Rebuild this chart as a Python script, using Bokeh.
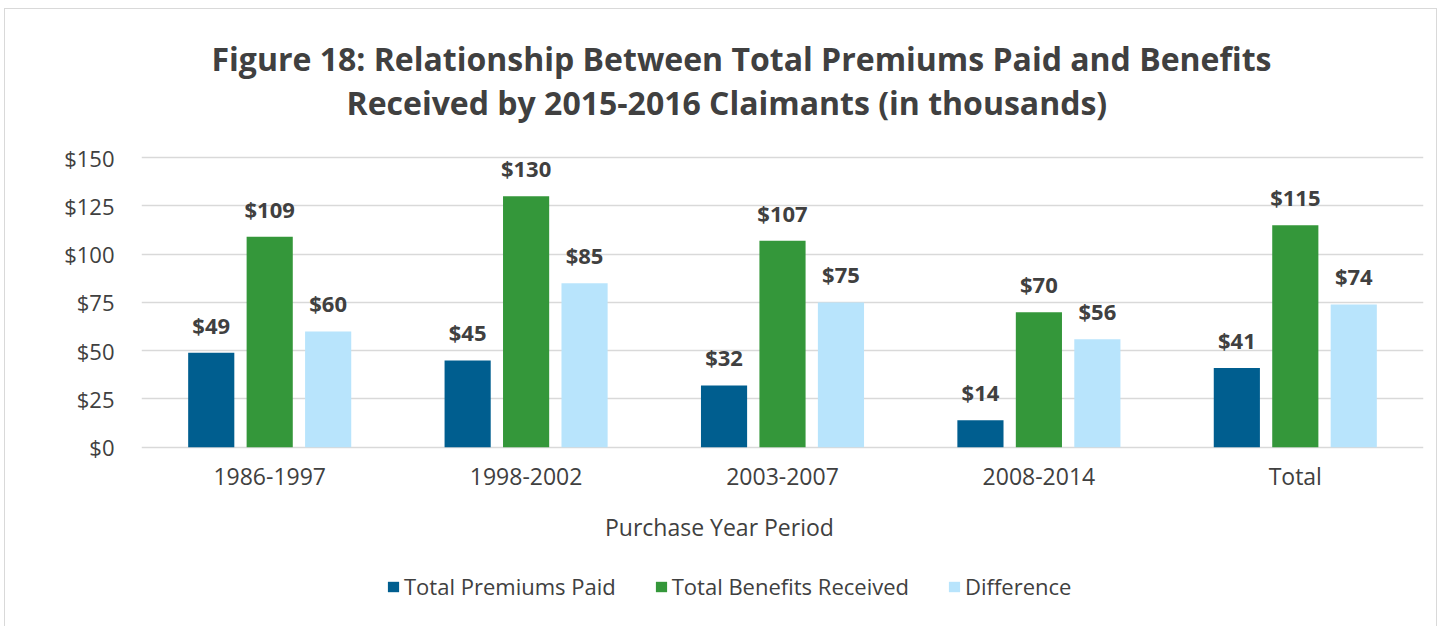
from bokeh.plotting import figure
from bokeh.models import (FactorRange, ColumnDataSource, LabelSet, Legend, LegendItem,
                          NumeralTickFormatter, Label, FixedTicker, Range1d)
from bokeh.core.properties import value
from bokeh.transform import dodge
from bokeh.embed import file_html
from bokeh.resources import INLINE

categories = ["1986-1997", "1998-2002", "2003-2007", "2008-2014", "Total"]
premiums = [49, 45, 32, 14, 41]
benefits = [109, 130, 107, 70, 115]
difference = [60, 85, 75, 56, 74]
series_names = ["Total Premiums Paid", "Total Benefits Received", "Difference"]
y_ticks = [0, 25, 50, 75, 100, 125, 150]
title_lines = ["Figure 18: Relationship Between Total Premiums Paid and Benefits",
               "Received by 2015-2016 Claimants (in thousands)"]
x_title = "Purchase Year Period"

colors = ["#005E8F", "#34973A", "#B8E4FC"]
FONT = "Open Sans"
TXT = "#404040"

src = ColumnDataSource(dict(
    cat=categories,
    prem=premiums, ben=benefits, diff=difference,
    prem_l=[f"${v}" for v in premiums],
    ben_l=[f"${v}" for v in benefits],
    diff_l=[f"${v}" for v in difference],
))

# frame covers the whole height; the value axis shows 0..150 only
p = figure(x_range=FactorRange(*categories), y_range=Range1d(-93.4, 226.8),
           width=1433, height=618, output_backend="svg", toolbar_location=None,
           min_border_left=136, min_border_right=15, min_border_top=0, min_border_bottom=0)
p.outline_line_color = None
p.background_fill_color = "white"
p.border_fill_color = "white"

offs = [-0.228, 0.0, 0.228]
fields = ["prem", "ben", "diff"]
renderers = []
for f, o, c in zip(fields, offs, colors):
    r = p.vbar(x=dodge("cat", o, range=p.x_range), top=f, bottom=0, width=0.18, source=src,
               fill_color=c, line_color=None)
    renderers.append(r)
    p.add_layout(LabelSet(x=dodge("cat", o, range=p.x_range), y=f, text=f + "_l", source=src,
                          y_offset=13, text_align="center", text_baseline="bottom",
                          text_font=value(FONT), text_font_style="bold", text_font_size="22px",
                          text_color=TXT))

# category labels under the bars
p.add_layout(LabelSet(x="cat", y=0, text="cat", source=src, y_offset=-29,
                      text_align="center", text_baseline="middle", text_font=value(FONT),
                      text_font_size="23px", text_color=TXT))
p.xaxis.visible = False

p.yaxis.ticker = FixedTicker(ticks=y_ticks)
p.yaxis.formatter = NumeralTickFormatter(format="$0")
ax = p.yaxis[0]
ax.axis_line_color = None
ax.major_tick_line_color = None
ax.minor_tick_line_color = None
ax.major_label_text_font = FONT
ax.major_label_text_font_size = "22px"
ax.major_label_text_color = TXT
ax.major_label_standoff = 21
p.xgrid.grid_line_color = None
p.ygrid.grid_line_color = "#D9D9D9"
p.ygrid.grid_line_width = 1.5

for txt, xx, yy, sz, st in [(title_lines[0], 2.340, 201.3, "32px", "bold"),
                            (title_lines[1], 2.283, 178.6, "32px", "bold"),
                            (x_title, 2.254, -41.5, "23px", "normal")]:
    p.add_layout(Label(x=xx, y=yy, text=txt, text_align="center", text_baseline="middle",
                       text_font=FONT, text_font_size=sz, text_font_style=st, text_color=TXT))

legend = Legend(items=[LegendItem(label=n, renderers=[r]) for n, r in zip(series_names, renderers)],
                orientation="horizontal", location=(245, 26), border_line_color=None,
                background_fill_alpha=0, label_text_font=FONT, label_text_font_size="22px",
                label_text_color=TXT, glyph_width=14, glyph_height=13, spacing=38,
                label_standoff=4, padding=0, margin=0)
p.add_layout(legend, "center")

p.styles = {"border-top": "1px solid #D9D9D9", "border-left": "1px solid #D9D9D9",
            "border-right": "1px solid #D9D9D9", "margin-top": "8px", "margin-left": "4px"}

open("out.html", "w").write(file_html(p, INLINE))
